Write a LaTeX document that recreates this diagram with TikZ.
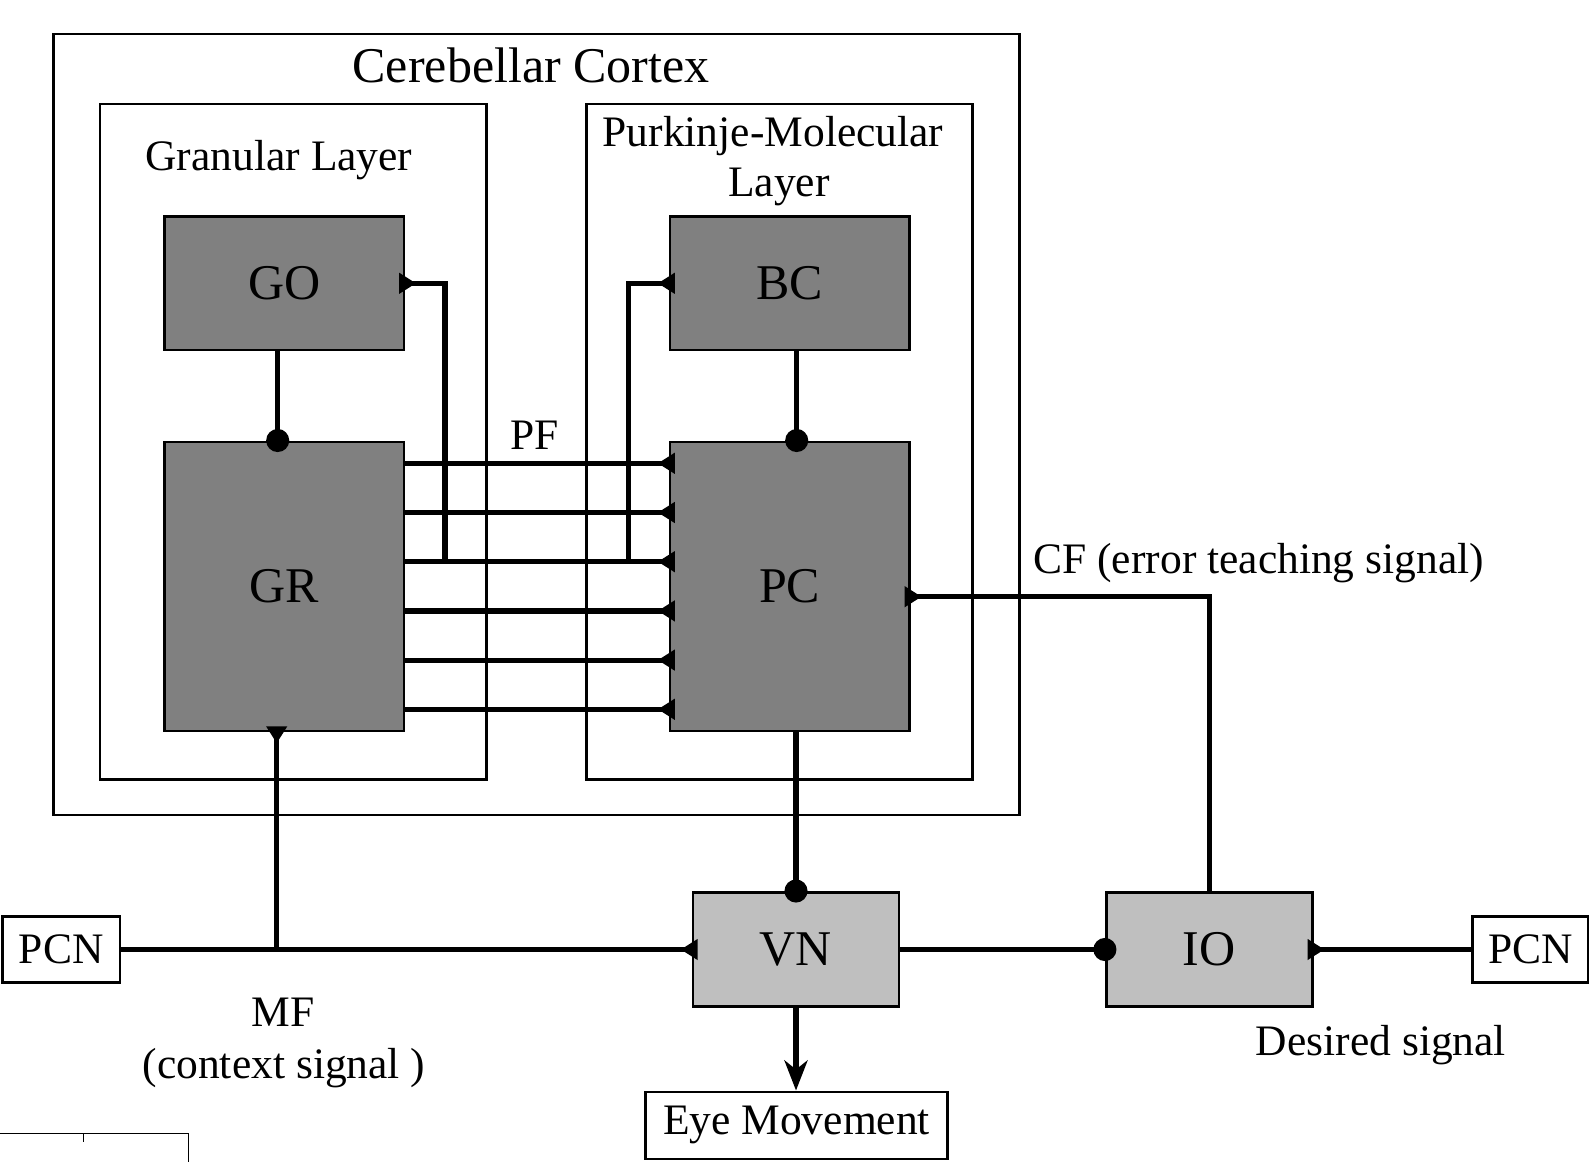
\documentclass[tikz,border=0pt]{standalone}
\usepackage{fontspec}
\setmainfont{Liberation Serif}
\usepackage{tikz}
\usetikzlibrary{arrows.meta}
\definecolor{cellgray}{gray}{0.5}
\definecolor{nucleigray}{gray}{0.75}
\newcommand{\labelbig}{\fontsize{25pt}{30pt}\selectfont}
\newcommand{\labelsmall}{\fontsize{21.75pt}{26pt}\selectfont}

\begin{document}
\begin{tikzpicture}[x=0.5pt,y=-0.5pt]
\tikzset{
    cellnode/.style = {draw=black, line width=1.3pt, fill=cellgray, minimum width=119.6pt, inner sep=0pt, font=\labelbig},
    nucleusnode/.style = {draw=black, line width=1.3pt, fill=nucleigray, minimum width=103pt, minimum height=57.2pt, inner sep=0pt, font=\labelbig},
    outnode/.style = {draw=black, line width=1.3pt, fill=white, minimum height=33.2pt, inner sep=0pt, font=\labelsmall},
    textlabel/.style = {anchor=base, inner sep=0pt, font=\labelsmall},
    layerbox/.style = {draw=black, line width=1.3pt},
    fiber/.style = {line width=2.6pt},
    inport/.style = {-{Triangle[reversed,length=8.5pt,width=10pt]}, shorten >=-3pt},
    synapse/.style = {-{Circle[length=11.5pt]}, shorten >=-5.75pt},
}
\useasboundingbox (0,0) rectangle (1591,1162);

% boxes of the cortex
\draw[layerbox] (53.3,34) rectangle (1019.5,815);
\draw[layerbox] (100,104) rectangle (486.7,779.3);
\draw[layerbox] (586.7,104) rectangle (972.7,779.3);
\node[textlabel, font=\labelbig] (cortex) at (531,82) {Cerebellar Cortex};
\node[textlabel] (granular) at (279,170) {Granular Layer};
\node[textlabel] (purkinje) at (773,146) {Purkinje-Molecular};
\node[textlabel] (purkinje2) at (779,196) {Layer};

% cells
\node[cellnode, minimum height=66.7pt] (GO) at (284.2,283.3) {GO};
\node[cellnode, minimum height=144.6pt] (GR) at (284.2,586.4) {GR};
\node[cellnode, minimum height=66.7pt] (BC) at (789.7,283.3) {BC};
\node[cellnode, minimum height=144.6pt] (PC) at (789.7,586.4) {PC};
\node[nucleusnode] (VN) at (796,949.5) {VN};
\node[nucleusnode] (IO) at (1209.2,949.5) {IO};
\node[outnode, minimum width=58.7pt] (pcnL) at (61.3,949.5) {PCN};
\node[outnode, minimum width=57.7pt] (pcnR) at (1530.3,949.5) {PCN};
\node[outnode, minimum width=151.2pt, minimum height=33.5pt] (eye) at (796.5,1125.3) {Eye Movement};

% parallel fibers
\foreach \y in {463.3,512.5,561.7,610.9,660.1,709.3}
  \draw[fiber,inport] (GR.east |- 0,\y) -- (PC.west |- 0,\y);
\node[textlabel] (pf) at (534.5,449.3) {PF};
\coordinate (gojoin) at (445,561.7);
\coordinate (bcjoin) at (628.3,561.7);
\draw[fiber,inport] (gojoin) |- (GO.east);
\draw[fiber,inport] (bcjoin) |- (BC.west);

% inhibition
\draw[fiber,synapse] ([xshift=-3.25pt]GO.south) -- ([xshift=-3.25pt]GR.north);
\draw[fiber,synapse] ([xshift=3.5pt]BC.south) -- ([xshift=3.5pt]PC.north);
\draw[fiber,synapse] (VN.north |- PC.south) -- (VN.north);
\draw[fiber,synapse] (VN.east) -- (IO.west);

% mossy fiber
\coordinate (mfjoin) at (276.7,949.5);
\draw[fiber,inport] (pcnL.east) -- (VN.west);
\draw[fiber,inport] (mfjoin) -- (mfjoin |- GR.south);
\node[textlabel] (mf) at (283,1026.7) {MF};
\node[textlabel] (mf2) at (284,1078) {(context signal )};

% climbing fiber
\draw[fiber,inport] (IO.north) |- (PC.east |- 0,596.7);
\node[textlabel, anchor=base west] (cf) at (1033,573) {CF (error teaching signal)};
\draw[fiber,inport] (pcnR.west) -- (IO.east);
\node[textlabel] (desired) at (1381,1055) {Desired signal};

% output
\draw[fiber,-{Stealth[length=15pt,width=11.5pt,inset=4.5pt]}] (VN.south) -- (VN.south |- eye.north);

% fragment at the corner
\draw[line width=0.8pt] (0,1133.3) -- (188.3,1133.3) -- (188.3,1162);
\draw[line width=0.8pt] (83.3,1133.3) -- (83.3,1141.7);
\end{tikzpicture}
\end{document}
